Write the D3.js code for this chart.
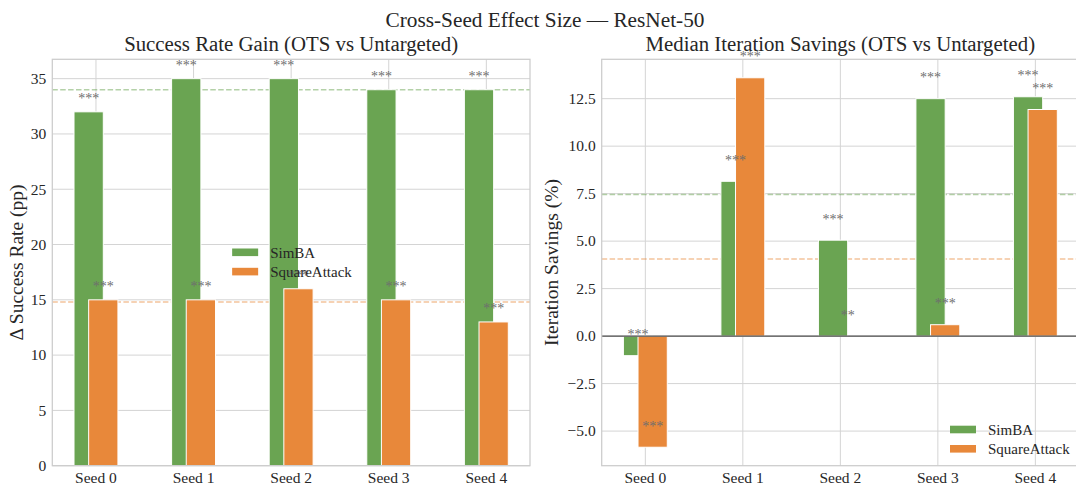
<!DOCTYPE html>
<html>
<head>
<meta charset="utf-8">
<script src="https://cdn.jsdelivr.net/npm/d3@7"></script>
<style>
  html, body { margin: 0; padding: 0; background: #fff; }
  svg text { font-family: "Liberation Serif", "Times New Roman", serif; fill: #262626; }
</style>
</head>
<body>
<svg id="chart" width="1076" height="488"></svg>
<script>
// ---- data ----
const categories = ["Seed 0", "Seed 1", "Seed 2", "Seed 3", "Seed 4"];
const seriesNames = ["SimBA", "SquareAttack"];

// Success-rate gain (percentage points)
const simbaGain  = [32, 35, 35, 34, 34];
const squareGain = [15, 15, 16, 15, 13];
const simbaGainSig  = ["***", "***", "***", "***", "***"];
const squareGainSig = ["***", "***", "***", "***", "***"];

// Median iteration savings (%)
const simbaSave  = [-1.03, 8.15, 5.05, 12.5, 12.6];
const squareSave = [-5.85, 13.6, 0.0, 0.6, 11.93];
const simbaSaveSig  = ["***", "***", "***", "***", "***"];
const squareSaveSig = ["***", "***", "**", "***", "***"];

const gainTicks = [0, 5, 10, 15, 20, 25, 30, 35];
const saveTicks = [-5, -2.5, 0, 2.5, 5, 7.5, 10, 12.5];

const colors = ["#6aa452", "#e8883a"];

// ---- layout ----
const svg = d3.select("#chart");
const plotTop = 59.3, plotBottom = 465.7;
const panels = [
  {
    left: 52.3, right: 530,
    title: "Success Rate Gain (OTS vs Untargeted)",
    ylabel: "\u0394 Success Rate (pp)", ylabelX: 22.5,
    series: [simbaGain, squareGain], sig: [simbaGainSig, squareGainSig],
    ticks: gainTicks, fmt: d => String(d),
    zeroLine: false, legend: "center"
  },
  {
    left: 601.7, right: 1079,
    title: "Median Iteration Savings (OTS vs Untargeted)",
    ylabel: "Iteration Savings (%)", ylabelX: 558,
    series: [simbaSave, squareSave], sig: [simbaSaveSig, squareSaveSig],
    ticks: saveTicks, fmt: d => d3.format(".1f")(d).replace("-", "\u2212"),
    zeroLine: true, legend: "lower right"
  }
];

const barWidth = 0.3, barShift = 0.075;

svg.append("text")
  .attr("x", 545).attr("y", 26.5)
  .attr("text-anchor", "middle")
  .style("font-size", "21.3px")
  .text("Cross-Seed Effect Size \u2014 ResNet-50");

panels.forEach(p => {
  const g = svg.append("g");
  const n = categories.length;

  // x: category positions with 5% margin around the bar extent
  const lo = -barShift - barWidth / 2, hi = (n - 1) + barShift + barWidth / 2;
  const xpad = 0.05 * (hi - lo);
  const x = d3.scaleLinear().domain([lo - xpad, hi + xpad]).range([p.left, p.right]);

  // y: data extent (bars anchored at 0) with 5% margin
  const all = p.series.flat().concat([0]);
  const ymin = d3.min(all), ymax = d3.max(all);
  const ypad = 0.05 * (ymax - ymin);
  const y = d3.scaleLinear()
    .domain([ymin < 0 ? ymin - ypad : 0, ymax + ypad])
    .range([plotBottom, plotTop]);

  // grid
  g.append("g").selectAll("line").data(p.ticks).join("line")
    .attr("x1", p.left).attr("x2", p.right)
    .attr("y1", d => y(d)).attr("y2", d => y(d))
    .attr("stroke", "#d4d4d4").attr("stroke-width", 1);
  g.append("g").selectAll("line").data(d3.range(n)).join("line")
    .attr("x1", d => x(d)).attr("x2", d => x(d))
    .attr("y1", plotTop).attr("y2", plotBottom)
    .attr("stroke", "#d4d4d4").attr("stroke-width", 1);

  // mean reference lines (behind bars)
  p.series.forEach((s, i) => {
    const m = d3.mean(s);
    g.append("line")
      .attr("x1", p.left).attr("x2", p.right)
      .attr("y1", y(m)).attr("y2", y(m))
      .attr("stroke", colors[i]).attr("stroke-opacity", 0.5)
      .attr("stroke-width", 1.5).attr("stroke-dasharray", "5.5,2.4");
  });

  // bars
  p.series.forEach((s, i) => {
    const off = i === 0 ? -barShift : barShift;
    g.append("g").selectAll("rect").data(s).join("rect")
      .attr("x", (d, j) => x(j + off - barWidth / 2))
      .attr("width", x(barWidth) - x(0))
      .attr("y", d => y(Math.max(0, d)))
      .attr("height", d => Math.abs(y(d) - y(0)))
      .attr("fill", colors[i])
      .attr("stroke", "#ffffff").attr("stroke-width", 1);
  });

  if (p.zeroLine) {
    g.append("line")
      .attr("x1", p.left).attr("x2", p.right)
      .attr("y1", y(0)).attr("y2", y(0))
      .attr("stroke", "#4d4d4d").attr("stroke-width", 1.2);
  }

  // significance markers, one data unit above each bar end
  p.series.forEach((s, i) => {
    const off = i === 0 ? -barShift : barShift;
    g.append("g").selectAll("text").data(s).join("text")
      .attr("x", (d, j) => x(j + off))
      .attr("y", d => y(d + 1) + 2.5)
      .attr("text-anchor", "middle")
      .style("font-size", "14px")
      .style("fill", "#6e6e6e")
      .text((d, j) => p.sig[i][j]);
  });

  // frame
  g.append("rect")
    .attr("x", p.left).attr("y", plotTop)
    .attr("width", p.right - p.left).attr("height", plotBottom - plotTop)
    .attr("fill", "none").attr("stroke", "#cccccc").attr("stroke-width", 1.25);

  // tick labels
  g.append("g").selectAll("text").data(p.ticks).join("text")
    .attr("x", p.left - 6).attr("y", d => y(d))
    .attr("dy", "0.34em")
    .attr("text-anchor", "end")
    .style("font-size", "15.5px")
    .text(p.fmt);
  g.append("g").selectAll("text").data(categories).join("text")
    .attr("x", (d, j) => x(j)).attr("y", 483)
    .attr("text-anchor", "middle")
    .style("font-size", "15.5px")
    .text(d => d);

  // titles
  g.append("text")
    .attr("x", (p.left + p.right) / 2).attr("y", 51)
    .attr("text-anchor", "middle")
    .style("font-size", "20.8px")
    .text(p.title);
  g.append("text")
    .attr("transform", `translate(${p.ylabelX},${(plotTop + plotBottom) / 2}) rotate(-90)`)
    .attr("text-anchor", "middle")
    .style("font-size", "19.5px")
    .text(p.ylabel);

  // legend
  let lx, ly;
  if (p.legend === "center") {
    lx = (p.left + p.right) / 2 - 59;
    ly = (plotTop + plotBottom) / 2 - 14;
  } else {
    lx = p.right - 129;
    ly = plotBottom - 40;
  }
  const leg = g.append("g").attr("transform", `translate(${lx},${ly})`);
  seriesNames.forEach((name, i) => {
    leg.append("rect")
      .attr("x", 0).attr("y", i * 19.3)
      .attr("width", 26).attr("height", 7.6)
      .attr("fill", colors[i]);
    leg.append("text")
      .attr("x", 38).attr("y", i * 19.3 + 3.8)
      .attr("dy", "0.35em")
      .style("font-size", "15px")
      .text(name);
  });
});
</script>
</body>
</html>
